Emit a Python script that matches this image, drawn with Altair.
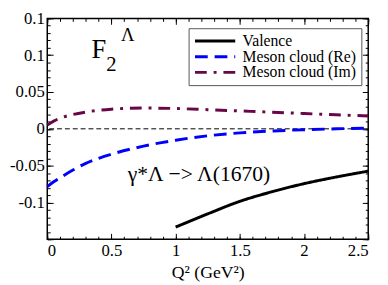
import altair as alt
import pandas as pd

# ---- data ----
q_val = [1.0, 1.25, 1.5, 1.75, 2.0, 2.25, 2.5]
f_val = [-0.1335, -0.1155, -0.0985, -0.0855, -0.0745, -0.0655, -0.0575]

q_mc = [0.0, 0.05, 0.1, 0.2, 0.3, 0.4, 0.5, 0.75, 1.0, 1.25, 1.5, 1.75, 2.0, 2.25, 2.5]
f_re = [-0.0786, -0.072, -0.0665, -0.056, -0.047, -0.040, -0.0345, -0.0235, -0.0155,
        -0.0095, -0.0055, -0.003, -0.0012, 0.0, 0.001]
f_im = [0.005, 0.0105, 0.0145, 0.0195, 0.0228, 0.0252, 0.0267, 0.0282, 0.0276,
        0.026, 0.0243, 0.0226, 0.0208, 0.019, 0.0175]

series_names = ["Valence", "Meson cloud (Re)", "Meson cloud (Im)"]
series_colors = ["#000000", "#0000ff", "#670748"]
series_dash = [[1, 0], [13, 7], [12, 7, 3, 7]]

x_major = [0, 0.5, 1, 1.5, 2, 2.5]
x_minor = [0, 0.1, 0.2, 0.3, 0.4, 0.5, 0.6, 0.7, 0.8, 0.9, 1.0, 1.1, 1.2, 1.3, 1.4,
           1.5, 1.6, 1.7, 1.8, 1.9, 2.0, 2.1, 2.2, 2.3, 2.4, 2.5]
y_labels = [-0.1, -0.05, 0, 0.05, 0.1, 0.15]
y_major = [-0.15, -0.1, -0.05, 0, 0.05, 0.1, 0.15]
y_minor = [-0.15, -0.14, -0.13, -0.12, -0.11, -0.1, -0.09, -0.08, -0.07, -0.06, -0.05,
           -0.04, -0.03, -0.02, -0.01, 0, 0.01, 0.02, 0.03, 0.04, 0.05, 0.06, 0.07,
           0.08, 0.09, 0.1, 0.11, 0.12, 0.13, 0.14, 0.15]
zero_line = [0]

title_F = ["F"]
title_sub = ["2"]
title_sup = ["Λ"]
reaction = ["γ*Λ −> Λ(1670)"]

# ---- build tables ----
rows = []
for q, f in zip(q_val, f_val):
    rows.append({"q": q, "f": f, "series": series_names[0]})
for q, f in zip(q_mc, f_re):
    rows.append({"q": q, "f": f, "series": series_names[1]})
for q, f in zip(q_mc, f_im):
    rows.append({"q": q, "f": f, "series": series_names[2]})
df = pd.DataFrame(rows)

W, H = 327, 225
FONT = "Liberation Serif"
xs = alt.Scale(domain=[0, 2.5], nice=False, zero=False)
ys = alt.Scale(domain=[-0.15, 0.15], nice=False, zero=False)
minus_fix = "replace(datum.label, '\u2212', '-')"


def tick_axis(orient, offset, values, size):
    return alt.Axis(orient=orient, offset=offset, values=values, labels=False,
                    ticks=True, tickSize=size, tickColor="black", tickWidth=1,
                    domain=False, grid=False, title=None)


lines = alt.Chart(df).mark_line(strokeWidth=3, interpolate="monotone").encode(
    x=alt.X("q:Q", scale=xs,
            axis=alt.Axis(orient="bottom", values=x_major, format="~g", ticks=False,
                          tickSize=0, domain=False, grid=False, labelFontSize=17,
                          labelFont=FONT, labelPadding=4, labelColor="black",
                          labelOverlap=False,
                          title="Q² (GeV²)", titleFont=FONT, titleFontSize=18,
                          titleFontWeight="normal", titleColor="black", titlePadding=5)),
    y=alt.Y("f:Q", scale=ys,
            axis=alt.Axis(orient="left", values=y_labels, format="~g", labelExpr=minus_fix,
                          ticks=False, tickSize=0, domain=False, grid=False,
                          labelFontSize=17, labelFont=FONT, labelPadding=3,
                          labelOverlap=False,
                          labelColor="black", title=None)),
    color=alt.Color("series:N", scale=alt.Scale(domain=series_names, range=series_colors),
                    legend=alt.Legend(title=None, orient="none", legendX=144, legendY=10,
                                      symbolType="stroke", symbolSize=1681,
                                      symbolStrokeWidth=3, labelFont=FONT,
                                      labelFontSize=16, labelColor="black",
                                      labelOffset=6, padding=5, rowPadding=0,
                                      clipHeight=16,
                                      strokeColor="#555555", fillColor="white")),
    strokeDash=alt.StrokeDash("series:N",
                              scale=alt.Scale(domain=series_names, range=series_dash),
                              legend=None),
    order=alt.Order("q:Q"),
)

zero = alt.Chart(pd.DataFrame({"y0": zero_line})).mark_rule(
    color="black", strokeWidth=1, strokeDash=[5, 3]
).encode(y=alt.Y("y0:Q", scale=ys, axis=tick_axis("right", -W, y_major, 6)))

ghost_src = alt.Chart(df).mark_point(opacity=0)
g1 = ghost_src.encode(
    x=alt.X("q:Q", scale=xs, axis=tick_axis("top", -H, x_major, 6)),
    y=alt.Y("f:Q", scale=ys, axis=tick_axis("right", -W, y_minor, 3)),
)
g2 = ghost_src.encode(
    x=alt.X("q:Q", scale=xs, axis=tick_axis("top", -H, x_minor, 3)),
    y=alt.Y("f:Q", scale=ys, axis=tick_axis("left", -W, y_major, 6)),
)
g3 = ghost_src.encode(
    x=alt.X("q:Q", scale=xs, axis=tick_axis("bottom", -H, x_major, 6)),
    y=alt.Y("f:Q", scale=ys, axis=tick_axis("left", -W, y_minor, 3)),
)
g4 = ghost_src.encode(
    x=alt.X("q:Q", scale=xs, axis=tick_axis("bottom", -H, x_minor, 3)),
)


def label(txt, size, x, y):
    return alt.Chart(pd.DataFrame({"t": txt})).mark_text(
        font=FONT, fontSize=size, align="left", baseline="alphabetic", color="black"
    ).encode(x=alt.value(x), y=alt.value(y), text="t:N")


texts = (label(title_F, 27, 45, 40) + label(title_sub, 21, 60, 54) +
         label(title_sup, 19, 75, 23) + label(reaction, 22, 82, 166))

chart = alt.layer(zero, g1, g2, g3, g4, lines, texts).resolve_axis(
    x="independent", y="independent"
).properties(
    width=W, height=H,
    padding={"left": 40, "top": 8, "right": 12, "bottom": 43},
    autosize=alt.AutoSizeParams(type="none"),
).configure(font=FONT).configure_view(stroke="black", strokeWidth=1.5)

chart.save("out.html", embed_options={"renderer": "svg", "actions": False})
